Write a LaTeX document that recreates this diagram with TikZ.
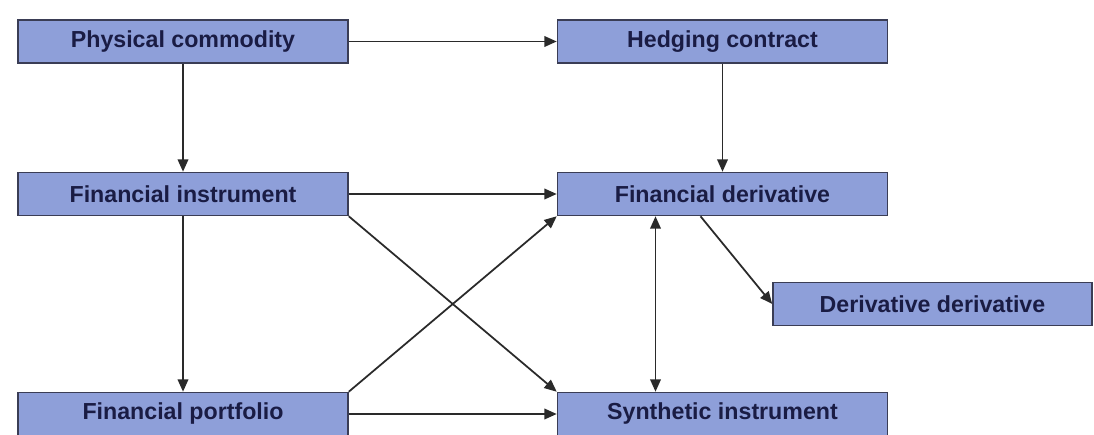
\documentclass[tikz,border=0pt]{standalone}
\usepackage{fontspec}
\setmainfont{Liberation Sans}
\usetikzlibrary{arrows.meta}
\definecolor{boxfill}{HTML}{8E9FD9}
\definecolor{boxline}{HTML}{3A3D55}
\definecolor{boxtext}{HTML}{1A1C44}
\definecolor{linkcol}{HTML}{2A2A2A}
\begin{document}
\begin{tikzpicture}[x=0.02cm,y=-0.02cm,
  conceptbox/.style={draw=boxline,line width=0.9pt,fill=boxfill,
    minimum width=330*0.02cm,minimum height=43*0.02cm,inner sep=0pt,
    font=\fontsize{13.2}{15}\selectfont\bfseries,text=boxtext},
  link/.style={draw=linkcol,line width=1pt,-{Triangle[length=7pt,width=6pt]}},
  dlink/.style={draw=linkcol,line width=1pt,{Triangle[length=7pt,width=6pt]}-{Triangle[length=7pt,width=6pt]}}]
\useasboundingbox[fill=white] (0,0) rectangle (1094,435);
\begin{scope}
\clip (0,0) rectangle (1094,435);
\node[conceptbox] (pc) at (183,41.5) {Physical commodity};
\node[conceptbox] (hc) at (722.5,41.5) {Hedging contract};
\node[conceptbox] (fi) at (183,194) {Financial instrument};
\node[conceptbox] (fd) at (722.5,194) {Financial derivative};
\node[conceptbox,minimum width=319*0.02cm] (dd) at (932.5,304) {Derivative derivative};
\node[conceptbox] (fp) at (183,414) {Financial portfolio};
\node[conceptbox] (si) at (722.5,414) {Synthetic instrument};
% connectors
\draw[link] (pc.east) -- (hc.west);
\draw[link] (pc.south) -- (fi.north);
\draw[link] (hc.south) -- (fd.north);
\draw[link] (fi.east) -- (fd.west);
\draw[link] (fi.south) -- (fp.north);
\draw[link] (fi.south east) -- (si.north west);
\draw[link] (fp.north east) -- (fd.south west);
\draw[link] (fp.east) -- (si.west);
\draw[dlink] ([xshift=-67*0.02cm]fd.south) -- ([xshift=-67*0.02cm]si.north);
\draw[link] ([xshift=-22*0.02cm]fd.south) -- (dd.west);
\end{scope}
\end{tikzpicture}
\end{document}
